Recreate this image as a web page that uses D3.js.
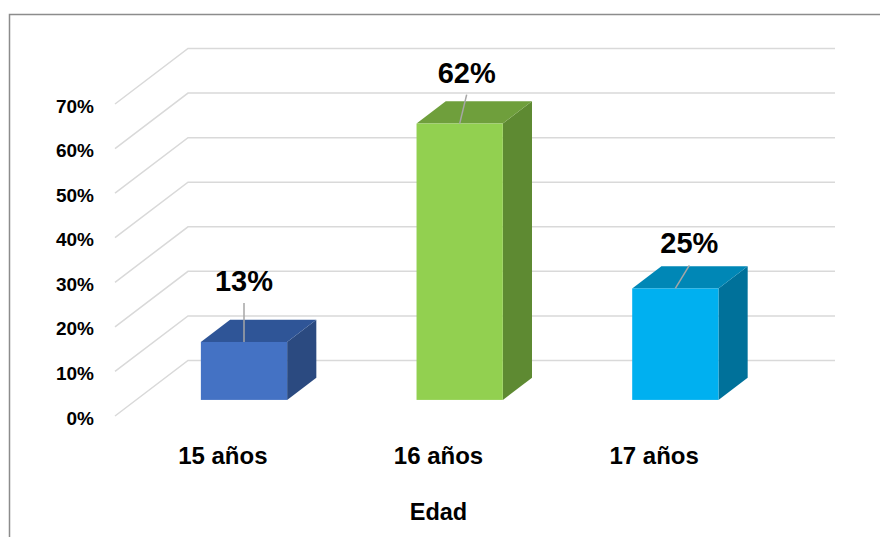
<!DOCTYPE html>
<html>
<head>
<meta charset="utf-8">
<script src="https://cdn.jsdelivr.net/npm/d3@7"></script>
<style>
  body { margin: 0; background: #fff; }
  text { font-family: "Liberation Sans", Arial, sans-serif; font-weight: bold; fill: #000; }
</style>
</head>
<body>
<div id="chart"></div>
<script>
// Data
var categories = ["15 años", "16 años", "17 años"];
var values = [0.13, 0.62, 0.25];
var tickValues = [0, 0.1, 0.2, 0.3, 0.4, 0.5, 0.6, 0.7];
var axisTitle = "Edad";

// Colours per bar: front, top, side
var fronts = ["#4472c4", "#92d050", "#00b0f0"];
var tops = ["#2f5597", "#6f9f3c", "#0087b6"];
var sides = ["#2b4a80", "#5e8a32", "#00719a"];

// Hand-placed label nudges (relative to the bar's front top edge)
var labelNudge = [[0, -51], [7, -41], [14, -35]];

var width = 880, height = 537;

// Oblique depth offset of the floor / walls
var DX = 73, DY = 55.5;
// Bars sit between these depth fractions
var z0 = 0.29, z1 = 0.69;

var svg = d3.select("#chart").append("svg")
  .attr("width", width)
  .attr("height", height);

// outer chart frame
svg.append("rect")
  .attr("x", 9.5).attr("y", 14.5)
  .attr("width", width + 20).attr("height", height + 20)
  .attr("fill", "none")
  .attr("stroke", "#8c8c8c")
  .attr("stroke-width", 1.5);

var y = d3.scaleLinear().domain([0, 0.7]).range([416, 104]);
var x = d3.scaleBand().domain(categories).range([115, 762]);

// projection helpers
function px(xf, z) { return xf + z * DX; }
function py(yf, z) { return yf - z * DY; }

// Gridlines: diagonal on the floor side then along the back wall
var grid = svg.append("g").attr("class", "grid");
grid.selectAll("path")
  .data(tickValues)
  .enter().append("path")
  .attr("d", function(d) {
    return "M" + px(115, 0) + "," + y(d) +
      "L" + px(115, 1) + "," + py(y(d), 1) +
      "L835," + py(y(d), 1);
  })
  .attr("fill", "none")
  .attr("stroke", "#d9d9d9")
  .attr("stroke-width", 1.5);

// Tick labels
svg.append("g").selectAll("text")
  .data(tickValues)
  .enter().append("text")
  .attr("x", 94)
  .attr("y", d => y(d) + 2)
  .attr("text-anchor", "end")
  .attr("dominant-baseline", "central")
  .style("font-size", "19px")
  .text(d3.format(".0%"));

// Bars
var bw = x.bandwidth() * 0.4;
var bars = svg.append("g").selectAll("g")
  .data(values)
  .enter().append("g");

function xl(i) { return x(categories[i]) + (x.bandwidth() - bw) / 2; }

// side face
bars.append("path")
  .attr("d", function(d, i) {
    var xr = xl(i) + bw;
    return "M" + px(xr, z0) + "," + py(y(0), z0) +
      "L" + px(xr, z1) + "," + py(y(0), z1) +
      "L" + px(xr, z1) + "," + py(y(d), z1) +
      "L" + px(xr, z0) + "," + py(y(d), z0) + "Z";
  })
  .attr("fill", (d, i) => sides[i]);

// top face
bars.append("path")
  .attr("d", function(d, i) {
    var a = xl(i), b = xl(i) + bw;
    return "M" + px(a, z0) + "," + py(y(d), z0) +
      "L" + px(a, z1) + "," + py(y(d), z1) +
      "L" + px(b, z1) + "," + py(y(d), z1) +
      "L" + px(b, z0) + "," + py(y(d), z0) + "Z";
  })
  .attr("fill", (d, i) => tops[i]);

// front face
bars.append("rect")
  .attr("x", (d, i) => px(xl(i), z0))
  .attr("y", d => py(y(d), z0))
  .attr("width", bw)
  .attr("height", d => y(0) - y(d))
  .attr("fill", (d, i) => fronts[i]);

// Leader lines and value labels
function frontCx(i) { return px(xl(i) + bw / 2, z0); }
bars.append("line")
  .attr("x1", (d, i) => frontCx(i) + labelNudge[i][0])
  .attr("y1", (d, i) => py(y(d), z0) + labelNudge[i][1] + 12)
  .attr("x2", (d, i) => frontCx(i))
  .attr("y2", d => py(y(d), z0))
  .attr("stroke", "#a6a6a6")
  .attr("stroke-width", 1.5);

bars.append("text")
  .attr("x", (d, i) => frontCx(i) + labelNudge[i][0])
  .attr("y", (d, i) => py(y(d), z0) + labelNudge[i][1])
  .attr("text-anchor", "middle")
  .style("font-size", "29px")
  .text(d3.format(".0%"));

// Category labels
svg.append("g").selectAll("text")
  .data(categories)
  .enter().append("text")
  .attr("x", d => x(d) + x.bandwidth() / 2)
  .attr("y", 464)
  .attr("text-anchor", "middle")
  .style("font-size", "24px")
  .text(d => d);

// Axis title
svg.append("text")
  .attr("x", (x.range()[0] + x.range()[1]) / 2)
  .attr("y", 520)
  .attr("text-anchor", "middle")
  .style("font-size", "23.5px")
  .text(axisTitle);
</script>
</body>
</html>
